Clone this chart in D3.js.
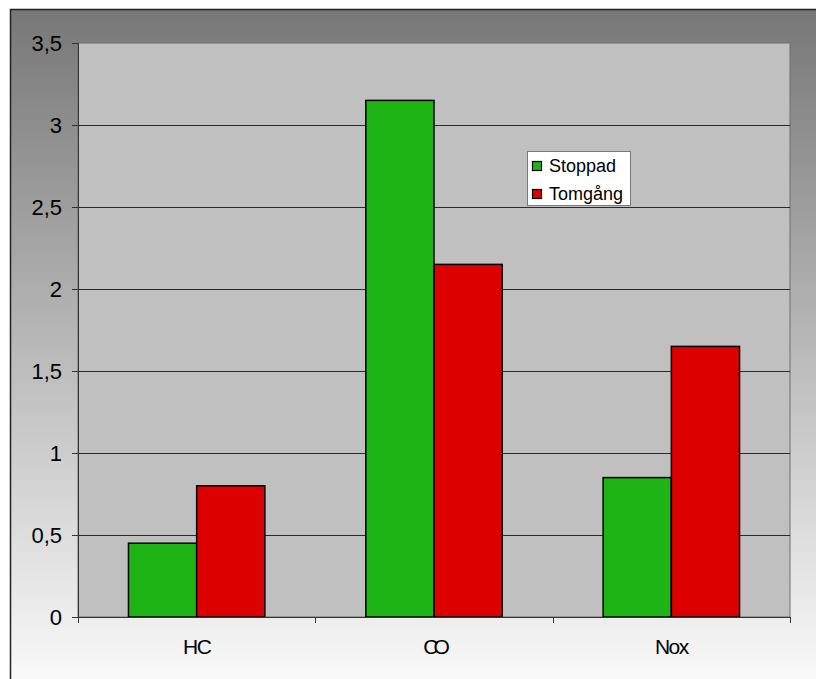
<!DOCTYPE html>
<html>
<head>
<meta charset="utf-8">
<script src="https://cdn.jsdelivr.net/npm/d3@7"></script>
<style>
  html, body { margin: 0; padding: 0; background: #ffffff; }
  svg { display: block; }
</style>
</head>
<body>
<svg id="chart" width="816" height="679"></svg>
<script>
// Emission comparison: stopped engine vs idling
const categories = ["HC", "CO", "Nox"];
const seriesNames = ["Stoppad", "Tomgång"];
const stoppad = [0.45, 3.15, 0.85];
const tomgang = [0.8, 2.15, 1.65];
const yTicks = [0, 0.5, 1, 1.5, 2, 2.5, 3, 3.5];
const colors = ["#1fb416", "#dd0000"];

const svg = d3.select("#chart");
const plot = { left: 78, top: 43, right: 790, bottom: 617 };
const FONT = "Liberation Sans, Arial, sans-serif";

// Chart background: grey fading to white
const defs = svg.append("defs");
const grad = defs.append("linearGradient")
  .attr("id", "bg").attr("x1", 0).attr("y1", 0).attr("x2", 0).attr("y2", 1);
grad.append("stop").attr("offset", "0%").attr("stop-color", "#777777");
grad.append("stop").attr("offset", "100%").attr("stop-color", "#ffffff");

svg.append("rect")
  .attr("x", 10.5).attr("y", 9.5).attr("width", 900).attr("height", 700)
  .attr("fill", "url(#bg)")
  .attr("stroke", "#222").attr("stroke-width", 1.5);

const y = d3.scaleLinear().domain([0, 3.5]).range([plot.bottom, plot.top]);
const x0 = d3.scaleBand().domain(categories).range([plot.left, plot.right]).paddingInner(0).paddingOuter(0);
const x1 = d3.scaleBand().domain(seriesNames).range([0, x0.bandwidth()]).paddingInner(0).paddingOuter(0.74);

// Plot area
svg.append("rect")
  .attr("x", plot.left).attr("y", plot.top)
  .attr("width", plot.right - plot.left).attr("height", plot.bottom - plot.top)
  .attr("fill", "#c0c0c0")
  .attr("stroke", "#6e6e6e").attr("stroke-width", 1);

// Horizontal gridlines
svg.append("g").selectAll("line")
  .data(yTicks.filter(t => t > 0 && t < 3.5))
  .join("line")
  .attr("x1", plot.left).attr("x2", plot.right)
  .attr("y1", d => Math.round(y(d)) + 0.5).attr("y2", d => Math.round(y(d)) + 0.5)
  .attr("stroke", "#2a2a2a").attr("stroke-width", 1);

// Bars
const rows = categories.map((c, i) => ({ cat: c, vals: [stoppad[i], tomgang[i]] }));
const groups = svg.append("g").selectAll("g")
  .data(rows).join("g")
  .attr("transform", d => `translate(${x0(d.cat)},0)`);
groups.selectAll("rect")
  .data(d => d.vals.map((v, j) => ({ name: seriesNames[j], v, j })))
  .join("rect")
  .attr("x", d => x1(d.name))
  .attr("y", d => y(d.v))
  .attr("width", x1.bandwidth())
  .attr("height", d => y(0) - y(d.v))
  .attr("fill", d => colors[d.j])
  .attr("stroke", "#000").attr("stroke-width", 1.5);

// Y axis
const yAxis = d3.axisLeft(y).tickValues(yTicks).tickSize(6).tickPadding(10)
  .tickFormat(d => String(d).replace(".", ","));
const gy = svg.append("g").attr("transform", `translate(${plot.left},0)`).call(yAxis);
gy.select(".domain").attr("stroke", "#333");
gy.selectAll(".tick line").attr("stroke", "#333");
gy.selectAll("text")
  .attr("font-family", FONT)
  .attr("font-size", 22).attr("fill", "#000");

// X axis with ticks at category boundaries
const gx = svg.append("g").attr("transform", `translate(0,${plot.bottom})`);
gx.append("line").attr("x1", plot.left).attr("x2", plot.right)
  .attr("y1", 0.5).attr("y2", 0.5).attr("stroke", "#333");
const boundaries = categories.map(c => x0(c)).concat([plot.right]);
gx.selectAll("line.tk").data(boundaries).join("line").attr("class", "tk")
  .attr("x1", d => Math.round(d) + 0.5).attr("x2", d => Math.round(d) + 0.5)
  .attr("y1", 0).attr("y2", 6).attr("stroke", "#333");
gx.selectAll("text").data(categories).join("text")
  .attr("x", d => x0(d) + x0.bandwidth() / 2)
  .attr("y", 37)
  .attr("text-anchor", "middle")
  .attr("font-family", FONT)
  .attr("font-size", 21)
  .attr("letter-spacing", d => d === "CO" ? -5 : -1.5)
  .attr("fill", "#000")
  .text(d => d);

// Legend
const lg = svg.append("g").attr("transform", "translate(527,151)");
lg.append("rect").attr("x", 0.5).attr("y", 0.5).attr("width", 103).attr("height", 54)
  .attr("fill", "#fff").attr("stroke", "#7a7a7a").attr("stroke-width", 1);
seriesNames.forEach((name, i) => {
  const yy = 15 + i * 28;
  lg.append("rect").attr("x", 5.5).attr("y", yy - 4.5).attr("width", 9).attr("height", 9)
    .attr("fill", colors[i]).attr("stroke", "#000").attr("stroke-width", 1.2);
  lg.append("text").attr("x", 22).attr("y", yy + 6)
    .attr("font-family", FONT)
    .attr("font-size", 18).attr("fill", "#000").text(name);
});
</script>
</body>
</html>
